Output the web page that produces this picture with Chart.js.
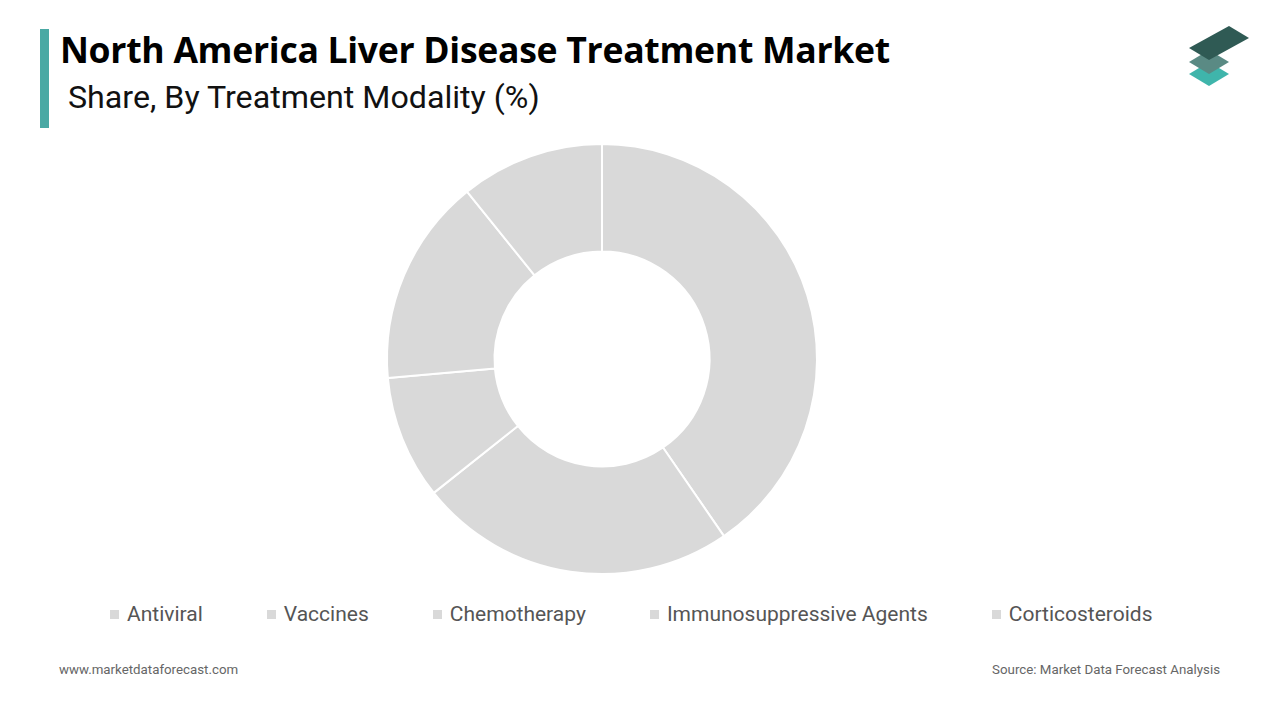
<!DOCTYPE html>
<html>
<head>
<meta charset="utf-8">
<script src="https://cdn.jsdelivr.net/npm/chart.js@4"></script>
<style>
  body { margin: 0; width: 1280px; height: 720px; background: #fff; font-family: Roboto, sans-serif; position: relative; overflow: hidden; }
  .bar { position: absolute; left: 40px; top: 29px; width: 9px; height: 99px; background: #4aa9a4; }
  h1 { position: absolute; left: 60px; top: 25px; margin: 0; font: bold 35.6px "Open Sans", sans-serif; color: #000; letter-spacing: -0.3px; }
  h2 { position: absolute; left: 68px; top: 78px; margin: 0; font: 32.2px Roboto, sans-serif; color: #111; font-weight: normal; }
  .foot { position: absolute; top: 662px; font-size: 13.3px; color: #666; }
  #wrap { position: absolute; left: 0; top: 135px; width: 1204px; height: 440px; }
  #legend { position: absolute; left: 110px; top: 602px; display: flex; font-size: 21px; color: #555; }
  #legend span.item { display: flex; align-items: center; margin-right: 64px; }
  #legend span.box { width: 9px; height: 9px; background: #d9d9d9; margin-right: 8px; }
</style>
</head>
<body>
<div class="bar"></div>
<h1>North America Liver Disease Treatment Market</h1>
<h2>Share, By Treatment Modality (%)</h2>
<svg style="position:absolute;left:1185px;top:22px" width="70" height="70" viewBox="0 0 70 70">
  <polygon points="4,52 24,64 44,52 24,40" fill="#3fb5ab"/>
  <polygon points="4,40 24,52 44,40 24,28" fill="#5a8a84"/>
  <polygon points="4,26 24,38 64,16 44,4" fill="#2f5a54"/>
</svg>
<div id="wrap"><canvas id="chart"></canvas></div>
<div id="legend"></div>
<div class="foot" style="left:59px">www.marketdataforecast.com</div>
<div class="foot" style="right:60px">Source: Market Data Forecast Analysis</div>
<script>
const categories = ["Antiviral", "Vaccines", "Chemotherapy", "Immunosuppressive Agents", "Corticosteroids"];
const shares = [40.4, 23.9, 9.3, 15.6, 10.8];

document.getElementById("legend").innerHTML = categories
    .map(c => `<span class="item"><span class="box"></span>${c}</span>`)
    .join("");

new Chart(document.getElementById("chart"), {
    type: "doughnut",
    data: {
        labels: categories,
        datasets: [{
            data: shares,
            backgroundColor: "#d9d9d9",
            borderColor: "#ffffff",
            borderWidth: 2
        }]
    },
    options: {
        responsive: true,
        maintainAspectRatio: false,
        animation: false,
        cutout: "50%",
        layout: { padding: { top: 8 } },
        plugins: {
            tooltip: { enabled: false },
            legend: { display: false }
        }
    }
});
</script>
</body>
</html>
